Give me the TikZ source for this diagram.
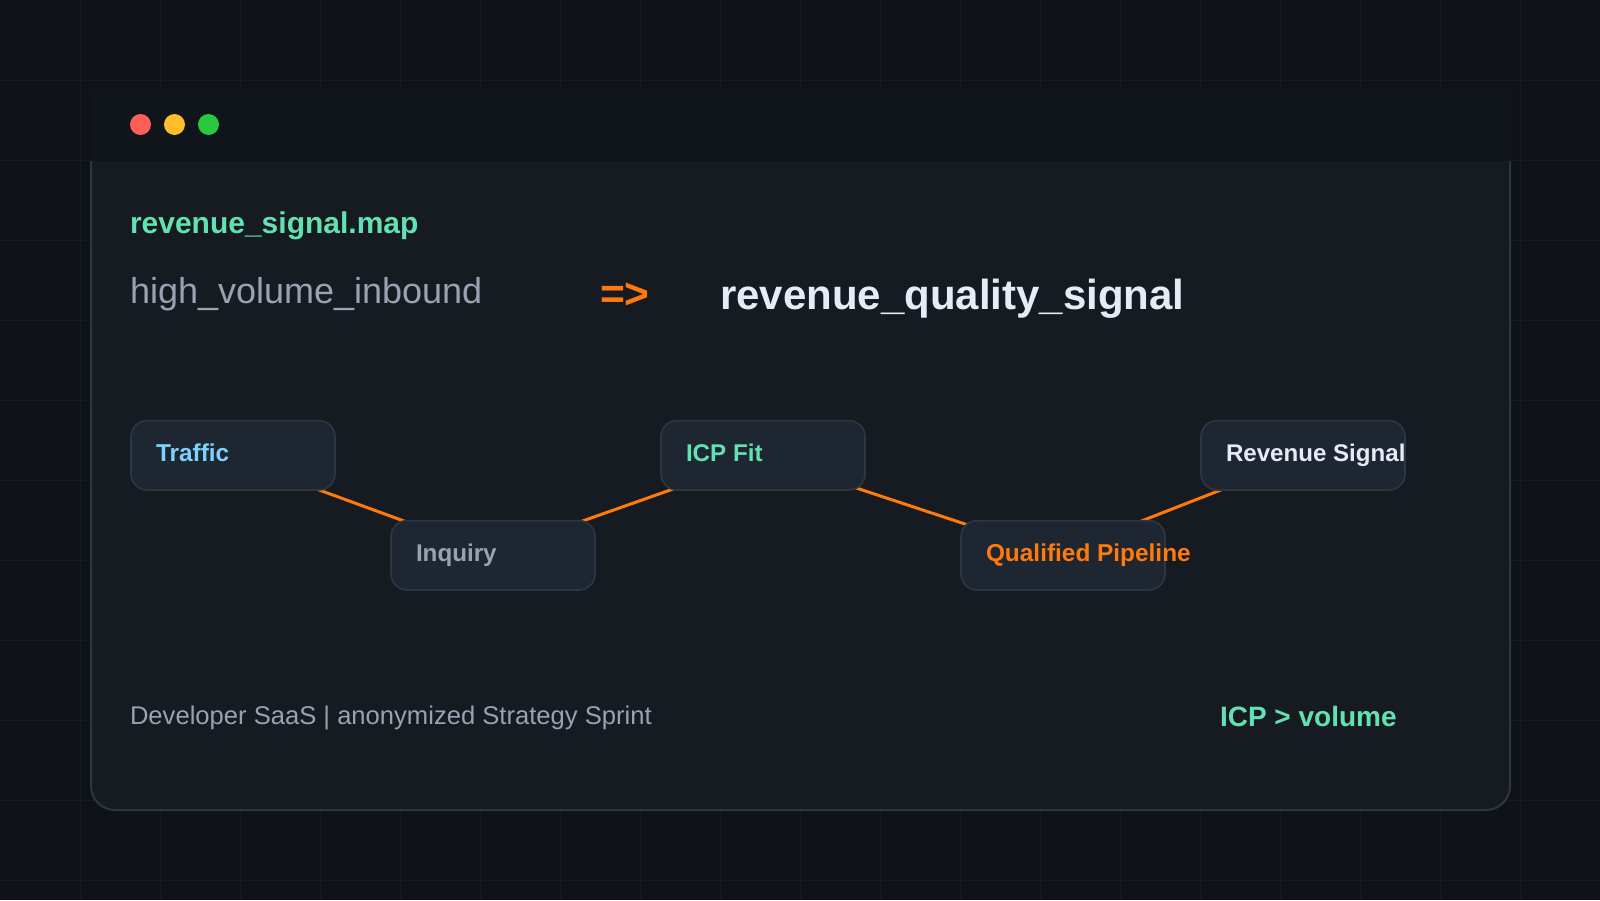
\documentclass[tikz,border=0pt]{standalone}
\usepackage{fontspec}
\setmainfont{Liberation Sans}
\usetikzlibrary{calc}
\definecolor{bgc}{HTML}{0F1319}
\definecolor{gridc}{HTML}{171C24}
\definecolor{panelc}{HTML}{161B22}
\definecolor{titlec}{HTML}{10151B}
\definecolor{boxc}{HTML}{1E2632}
\definecolor{linec}{HTML}{2D3744}
\definecolor{orangec}{HTML}{FF7A0A}
\definecolor{tealc}{HTML}{64E1B2}
\definecolor{bluec}{HTML}{7DD3FC}
\definecolor{grayc}{HTML}{98A2B0}
\definecolor{whitec}{HTML}{E6ECF5}
\newcommand{\pxf}[1]{\fontsize{\dimexpr#1pt*3/4\relax}{\dimexpr#1pt\relax}\selectfont}
\pgfdeclarelayer{base}
\pgfdeclarelayer{edges}
\pgfsetlayers{base,edges,main}
\tikzset{
  x=0.75pt,y=-0.75pt,
  stagebox/.style={draw=linec,fill=boxc,line width=1.2pt,rounded corners=12pt,minimum width=153pt,minimum height=52pt,inner sep=0pt,outer sep=0pt},
  stagetext/.style={anchor=base west,inner sep=0pt,outer sep=0pt,font=\bfseries\pxf{24.2}},
  plain/.style={anchor=base west,inner sep=0pt,outer sep=0pt},
  conn/.style={draw=orangec,line width=2.25pt},
  dot/.style={circle,minimum size=15.75pt,inner sep=0pt,outer sep=0pt},
}
\begin{document}
\begin{tikzpicture}
\useasboundingbox (0,0) rectangle (1600,900);
\begin{pgfonlayer}{base}
\fill[bgc] (0,0) rectangle (1600,900);
\foreach \g in {80,160,...,1520} \draw[gridc,line width=0.75pt] (\g,0) -- (\g,900);
\foreach \g in {80,160,...,880} \draw[gridc,line width=0.75pt] (0,\g) -- (1600,\g);
\draw[fill=panelc,draw=linec,line width=1.5pt,rounded corners=18pt] (91,110) rectangle (1510,810);
\fill[titlec] (90,90) rectangle (1511,161);
\end{pgfonlayer}
\node[dot,fill={rgb,255:red,255;green,95;blue,87}] (d1) at (140.5,124.5) {};
\node[dot,fill={rgb,255:red,255;green,189;blue,46}] (d2) at (174.5,124.5) {};
\node[dot,fill={rgb,255:red,40;green,200;blue,64}] (d3) at (208.5,124.5) {};
\node[plain,text=tealc,font=\bfseries\pxf{30}] (title) at (130,233) {revenue\_signal.map};
\node[plain,text=grayc,font=\pxf{36}] (from) at (130,303) {high\_volume\_inbound};
\node[plain,text=orangec,font=\bfseries\pxf{42.5}] (arrow) at (600,308) {=>};
\node[plain,text=whitec,font=\bfseries\pxf{42}] (to) at (720,309) {revenue\_quality\_signal};
\node[stagebox] (traffic) at (233,455.3) {};
\node[stagebox] (inquiry) at (493,555.3) {};
\node[stagebox] (icp) at (763,455.3) {};
\node[stagebox] (qual) at (1063,555.3) {};
\node[stagebox] (rev) at (1303,455.3) {};
\node[stagetext,text=bluec,font=\bfseries\pxf{24.4}] (ttraffic) at (156,461) {Traffic};
\node[stagetext,text=grayc] (tinquiry) at (416,561) {Inquiry};
\node[stagetext,text=tealc] (ticp) at (686,461) {ICP Fit};
\node[stagetext,text=orangec,font=\bfseries\pxf{24.4}] (tqual) at (986,561) {Qualified Pipeline};
\node[stagetext,text=whitec,font=\bfseries\pxf{24.1}] (trev) at (1226,461) {Revenue Signal};
\begin{pgfonlayer}{edges}
\draw[conn] ($(traffic.center)+(59.7,25)$) -- ($(inquiry.center)+(-63.7,-25)$);
\draw[conn] ($(inquiry.center)+(63.2,-25)$) -- ($(icp.center)+(-65.2,25)$);
\draw[conn] ($(icp.center)+(64,23)$) -- ($(qual.center)+(-79,-25)$);
\draw[conn] ($(qual.center)+(54.6,-25)$) -- ($(rev.center)+(-57.4,25)$);
\end{pgfonlayer}
\node[plain,text=grayc,font=\pxf{25.6}] (foot) at (130,724) {Developer SaaS | anonymized Strategy Sprint};
\node[plain,text=tealc,font=\bfseries\pxf{28}] (claim) at (1220,726) {ICP > volume};
\end{tikzpicture}
\end{document}
